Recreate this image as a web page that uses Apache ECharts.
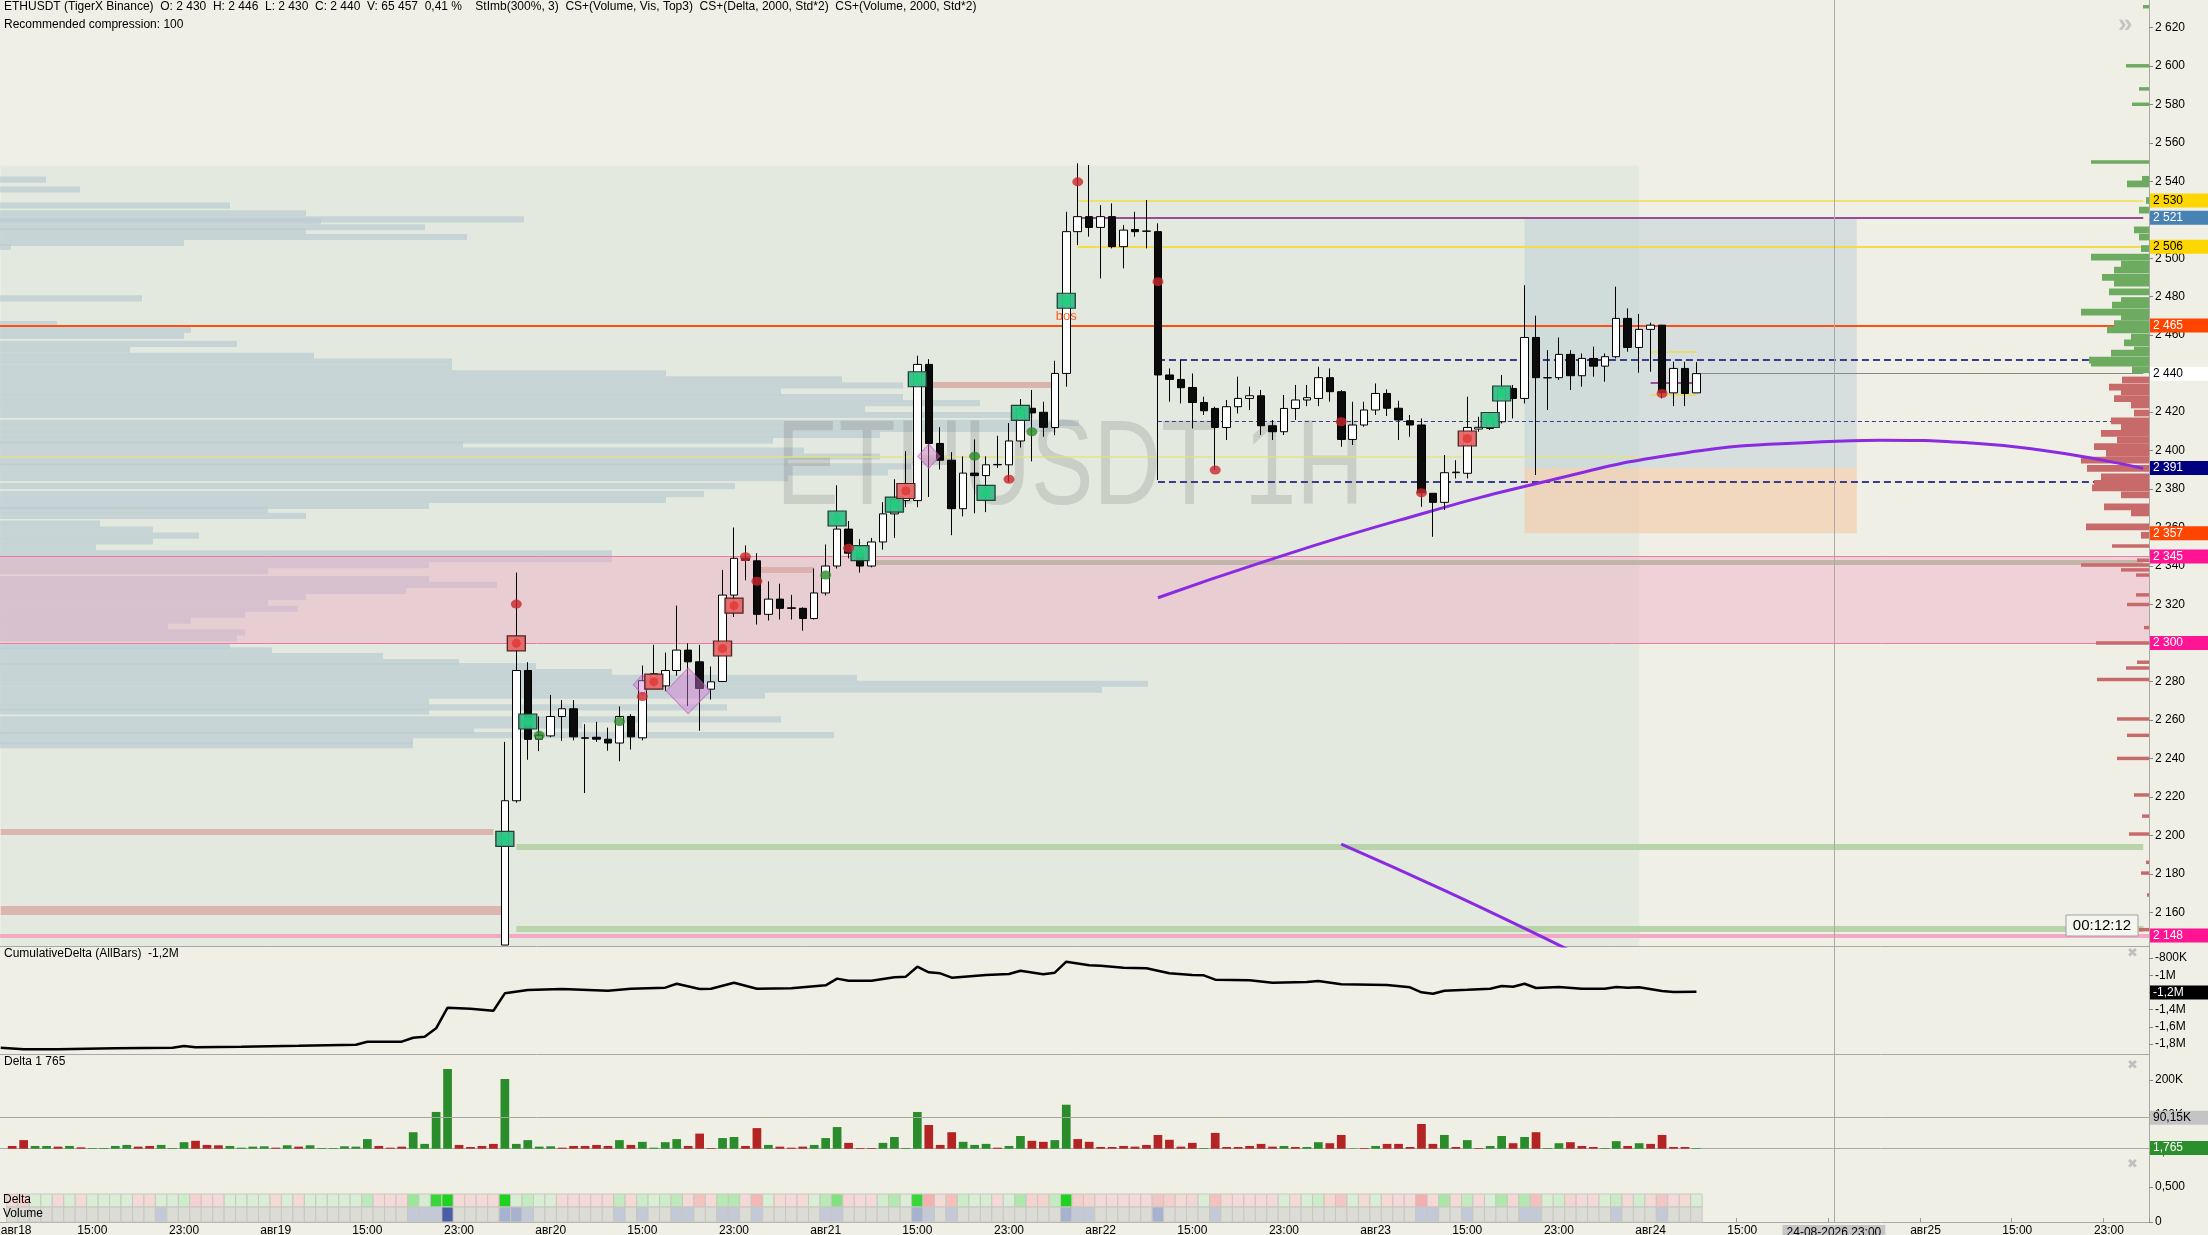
<!DOCTYPE html>
<html><head><meta charset="utf-8">
<script src="https://cdn.jsdelivr.net/npm/echarts@6/dist/echarts.min.js"></script>
<style>html,body{margin:0;padding:0;background:#efefe6;}#c{width:2208px;height:1235px;}</style>
</head><body><div id="c"></div><script>
// ---------------- DATA ----------------
const pad = n => (n < 10 ? '0' : '') + n;
const categories = [];
for (let j = 0; j < 188; j++) {
  const d = new Date(Date.UTC(2026, 7, 18, 7 + j));
  categories.push(pad(d.getUTCDate()) + '-' + pad(d.getUTCMonth() + 1) + '-' + d.getUTCFullYear() + ' ' + pad(d.getUTCHours()) + ':00');
}
const labelHours = ['07', '15', '23'];
const cursorLabel = '24-08-2026 23:00';

// candles [open, close, low, high], first candle at category index candleStart
// (first candle opens below the visible range; its open/low are set at the pane's lower edge)
const candleStart = 44;
const candles = [
[2143,2218,2143,2248.6],[2218,2285.7,2217,2336.6],[2285.7,2249.9,2239.3,2290],[2250,2252,2243.8,2261.8],[2251.7,2261.8,2251,2273],
[2261.8,2265.8,2249.1,2270.3],[2265.8,2251.2,2249.4,2270.3],[2250.7,2250.5,2222,2257.8],[2251,2250,2248.6,2259],[2250,2248,2244,2256],
[2248,2261.8,2238.5,2267],[2261.8,2251.2,2244.6,2263],[2250.7,2280.4,2249.4,2288.3],[2281,2284,2277,2299],[2277.7,2285.7,2275,2295],
[2285.7,2296.3,2283,2319.4],[2296.3,2290.2,2267.2,2299.8],[2290.2,2276.4,2254.4,2299],[2276,2279.8,2270.6,2287.8],[2280,2324.9,2279.8,2338],
[2324.9,2344,2313.5,2360],[2344,2343,2332.6,2350.7],[2342.7,2314.9,2309.6,2346.7],[2314.9,2322.8,2311.7,2332],[2322.8,2318,2312.2,2330.8],
[2318,2318.3,2312.2,2325],[2318,2312.7,2306.4,2318.5],[2312.7,2326,2312.2,2338.7],[2326,2340,2324.7,2351.2],[2340,2359.2,2338.7,2382],
[2359.2,2346.7,2344,2363.4],[2346.7,2340,2336.6,2354],[2340,2352.5,2339.3,2354.6],[2352.5,2367.1,2348.5,2373.2],[2367.1,2374.5,2354.6,2385.1],
[2374,2381,2370.6,2399.7],[2374,2444.8,2370.6,2449.3],[2444.8,2403.7,2375.9,2447.5],[2403.7,2395,2390.2,2412.2],[2395,2369.8,2356,2399.2],
[2369.8,2388.3,2365.8,2397],[2388.3,2387,2367.4,2405.8],[2387,2392.6,2368,2397],[2392.6,2392.8,2391,2407.7],[2392.6,2405,2383.8,2414.3],
[2405,2421.5,2401.6,2426.8],[2422,2419.6,2394.4,2431.5],[2419.9,2412.1,2407.2,2425.4],[2412,2440.1,2408,2446.7],[2440.1,2513.8,2433.2,2524.1],
[2513.8,2521.6,2506.8,2549.3],[2521.6,2516,2511.2,2548.4],[2516,2521.6,2489.5,2527.6],[2521.6,2506,2505.1,2528.5],[2506,2514.6,2494.7,2517.2],
[2514.9,2513.8,2511.2,2524.1],[2514,2514.1,2505.1,2530.2],[2513.8,2439.3,2384.7,2518.1],[2439.3,2437,2425.4,2442.7],[2437,2432.7,2424.5,2447.1],
[2432.8,2425,2411.5,2440.1],[2425,2420.7,2418.5,2428],[2421.9,2412,2389.9,2422.8],[2412,2422.8,2405.5,2426.3],[2422.8,2427.1,2419.3,2438.4],
[2427.1,2428.5,2421.1,2433.2],[2428.5,2412.9,2408.1,2431.5],[2412.9,2409.8,2405.5,2415.9],[2409.8,2421.9,2408.1,2428.9],[2421.9,2426.3,2415.9,2434.1],
[2426.3,2427.5,2423.1,2434.1],[2427.1,2437.9,2423.1,2443.6],[2437.9,2430.6,2425.4,2442.7],[2430.6,2405.8,2402,2431.5],[2405.8,2413.3,2402.9,2425.4],
[2413.3,2421.1,2412.4,2425.4],[2421.1,2429.7,2418.5,2434.9],[2429.7,2422,2418,2431.8],[2422,2415.9,2405.5,2425.9],[2415.5,2413.3,2407.2,2418.5],
[2413.3,2378.1,2370.8,2416.7],[2377.8,2373.1,2355.2,2377.8],[2373.1,2388.5,2369.1,2397.7],[2388.5,2388.8,2385.5,2395],[2388.2,2412,2385.5,2428],
[2411.2,2412.1,2409.8,2417.6],[2411.5,2416.7,2410.7,2419.3],[2415,2432.3,2414.1,2439.3],[2432.3,2427.1,2416.7,2434.1],[2427.1,2458.8,2424.5,2486],
[2458.8,2437.9,2387.3,2470.1],[2437.9,2437.8,2421.1,2452.2],[2437.9,2450,2436.7,2458.8],[2450,2438.9,2431.5,2452.2],[2438.9,2447.9,2433.2,2450.5],
[2447.9,2443.9,2438.4,2454],[2443.9,2448.8,2435.8,2450.5],[2448.8,2468.7,2447.9,2485.2],[2468.7,2453.6,2451.4,2473.9],[2453.6,2463,2440.5,2471],
[2463,2465.2,2441,2466.5],[2465.2,2430.1,2427.1,2465.2],[2430,2442.7,2423.1,2446.2],[2442.7,2429.7,2423.1,2446.2],[2430,2440,2430,2446]
];

// per-bar delta (thousands), first bar at category index deltaStart
const deltaStart = 1;
const deltaK = [
-8,-25,8,8,-6,8,-4,2,2,8, 11,-6,-8,11,2,19,-23,-11,-10,8, 3,6,7,-3,10,-6,10,2,2,7,
6,28,-8,-3,-6,48,14,107,232,-11, -5,-8,-14,203,14,25,6,7,-3,-8, -8,-11,-8,25,-11,20,3,19,28,-8,
-44,-2,31,34,-8,-60,11,-6,-3,-6, 11,31,63,-17,-2,-2,17,34,2,107, -69,-11,-48,20,11,14,-3,8,37,-23,
-20,25,128,-28,-20,-5,-5,-8,-6,-11, -40,-26,-6,-17,2,-46,-5,-5,-8,-14, -6,8,-5,5,19,-16,-40,1,-2,8,
-14,-14,-5,-72,-14,40,-5,25,-2,8, 37,-16,34,-48,2,16,-19,-8,-5,2, 22,-8,16,-14,-40,-5,-5,1.765
];
// volume intensity level per bar (0 light .. 3 dark), same bars as deltaK
const volumeLevel = [
0,0,0,0,0,0,0,0,0,0, 0,0,0,1,0,0,0,0,0,0, 0,0,0,0,0,0,0,0,0,0,
0,0,0,0,0,1,1,1,3,0, 0,0,0,2,2,1,0,0,0,0, 0,0,0,1,0,1,0,0,1,1,
0,0,1,1,0,1,0,0,0,0, 0,1,1,0,0,0,0,0,0,2, 1,0,1,0,0,0,0,0,0,0,
0,0,2,1,1,0,0,0,0,0, 2,0,0,0,0,1,0,0,0,0, 0,0,0,0,0,0,0,0,0,0,
0,0,0,1,1,0,0,1,0,0, 0,0,1,1,0,0,0,0,0,0, 1,0,0,0,1,0,0,0
];
// cumulative delta (millions) read at [category index, value]
const cumDelta = [
[0,-1.843],[2,-1.862],[5,-1.862],[10,-1.850],[15,-1.843],[16,-1.823],[17,-1.838],[21,-1.831],[26,-1.820],[31,-1.808],
[32,-1.773],[35,-1.773],[36,-1.727],[37,-1.715],[38,-1.618],[39,-1.378],[41,-1.389],[43,-1.413],[44,-1.211],[46,-1.172],
[49,-1.160],[53,-1.180],[55,-1.157],[58,-1.145],[59,-1.099],[61,-1.160],[62,-1.157],[64,-1.087],[66,-1.157],[69,-1.153],
[72,-1.118],[73,-1.040],[74,-1.064],[76,-1.064],[78,-1.025],[79,-1.017],[80,-0.901],[81,-0.967],[82,-0.978],[83,-1.029],
[86,-0.998],[88,-0.986],[89,-0.948],[91,-0.990],[92,-0.971],[93,-0.843],[95,-0.885],[96,-0.889],[98,-0.913],[100,-0.920],
[102,-0.978],[104,-0.998],[105,-1.002],[106,-1.052],[109,-1.060],[111,-1.087],[114,-1.079],[115,-1.067],[117,-1.106],[121,-1.114],
[123,-1.141],[124,-1.199],[125,-1.215],[126,-1.180],[128,-1.169],[130,-1.157],[131,-1.126],[132,-1.134],[133,-1.099],[134,-1.149],
[136,-1.137],[138,-1.157],[140,-1.157],[141,-1.137],[142,-1.145],[143,-1.141],[145,-1.184],[146,-1.195],[148,-1.192]
];
// markers [category index, price]
const greenBoxes = [[44,2198.2],[46,2259.2],[73,2364.7],[75,2346.7],[78,2371.9],[80,2437.1],[86,2378],[89,2419.6],[93,2477.9],[130,2415.9],[131,2429.7]];
const redBoxes = [[45,2299.8],[57,2279.9],[63,2297.1],[64,2319.4],[79,2379],[128,2406.3]];
const redDots = [[45,2320.2],[56,2272.2],[65,2344.8],[66,2332.1],[74,2349.3],[88,2385.1],[94,2539.7],[101,2487.8],[106,2389.9],[117,2415],[124,2378.1],[145,2429.7]];
const greenDots = [[47,2252],[54,2259.2],[72,2335.3],[85,2397.1],[90,2409.8]];
const diamonds = [[60,2275.1,44],[56,2278.3,18],[81,2397.1,22]];
// indicator curves [category index, price]
const curveUpper = [[101,2323.5],[110,2341.8],[122,2363.7],[135,2384.2],[147,2398.8],[159,2404.6],[164,2405.4],[172,2403.9],[178,2400.3],[184,2394.4],[187,2390.7]];
const curveLower = [[117,2195.5],[126,2171.4],[136,2143],[138,2137]];
// volume profiles: price levels and bar lengths
const leftProfilePrice = [2540.8,2535.7,2527.4,2523.3,2520.2,2519.2,2516.1,2514.1,2511,2507.9,2505.9,2479.1,2465.8,2462.7,2459.6,2455.5,2452.4,2449.3,2446.3,2443.2,2440.1,2437,2433.9,2430.8,2427.8,2424.7,2421.6,2418.5,2414.4,2411.3,2408.2,2405.2,2403.1,2400,2396.9,2393.9,2391.8,2388.7,2385.6,2381.5,2377.4,2374.3,2371.3,2369.2,2366.1,2362,2358.9,2355.8,2352.8,2349.7,2346.6,2343.5,2340.4,2337.3,2333.2,2330.2,2327.1,2324,2320.9,2317.8,2314.7,2311.6,2308.6,2305.5,2302.4,2298.3,2296.2,2293.2,2290.1,2288,2284.9,2281.9,2278.8,2275.7,2272.6,2269.5,2266.5,2264.4,2260.3,2257.2,2254.1,2252.1,2249,2246.9];
const leftProfileLen = [46,80,230,306,524,321,425,306,467,184,11,142,57,191,184,237,130,314,452,452,666,842,903,781,903,980,865,1033,1079,1056,880,773,463,804,880,788,911,888,788,735,704,666,429,268,306,100,153,199,153,96,612,612,429,268,429,497,406,306,268,298,245,191,168,245,237,230,272,383,459,536,612,857,1148,1102,765,429,727,429,781,582,474,834,413,413];
const rightProfilePrice = [2630.7,2600,2588,2580,2550,2541,2538.6,2530,2525,2514.7,2511,2505,2500.6,2497,2493.8,2490,2487,2482.5,2478,2475.6,2472,2469.5,2466,2462.7,2459,2456,2452.3,2450.7,2447,2445.5,2442,
2436.7,2433,2430.6,2427,2423.7,2419.5,2415.4,2412.3,2409,2405.5,2402,2398.6,2395,2390.7,2386.4,2383,2380.6,2377,2370.7,2367.6,2360.3,2356,2350.4,2343,2340.5,2338,2335.3,2325,2320,2308,2300,2290,2287,2281,2260.5,2252,2240,2221,2210,2200.7,2186,2180.4,2169,2151];
const rightProfileLen = [6,23,10,17,58,7,22,3,10,15,10,8,58,28,35,47,35,40,28,37,68,28,35,42,18,25,15,38,60,58,17,
27,40,28,35,18,15,38,28,48,32,55,43,68,62,48,55,57,28,45,18,63,8,37,12,68,28,13,13,22,5,53,12,23,52,32,22,32,15,7,20,3,8,2,10];
// right-axis level tags
const tagLevels = [2530, 2521, 2506, 2465, 2440, 2391, 2357, 2345, 2300, 2148];
const tagBg = ['#ffd700','#4682b4','#ffd700','#ff4500','#ffffff','#000080','#ff4500','#ff1493','#ff1493','#ff1493'];
const tagFg = ['#000','#fff','#000','#fff','#000','#fff','#fff','#fff','#fff','#fff'];
const priceTicks = [2160,2180,2200,2220,2240,2260,2280,2300,2320,2340,2360,2380,2400,2420,2440,2460,2480,2500,2520,2540,2560,2580,2600,2620];
const cumTicks = [-0.8,-1.0,-1.2,-1.4,-1.6,-1.8];
const deltaTicks = [100,200];
const stripTicks = [0, 0.5, 1];

// ---------------- HELPERS ----------------
const FONT = 'Liberation Sans, Arial, sans-serif';
const NOLINE = {color:'rgba(0,0,0,0)', width:0};
const fmtPrice = v => { const s = String(Math.round(v)); return s.slice(0, s.length - 3) + ' ' + s.slice(-3); };
const fmtCum = v => { const a = Math.abs(v); return a >= 0.999 ? '-' + String(+a.toFixed(1)).replace('.', ',') + 'M' : '-' + Math.round(a * 1000) + 'K'; };
const fmtStrip = v => v === 0 ? '0' : v.toFixed(3).replace('.', ',');
function hex(c){return [parseInt(c.slice(1,3),16),parseInt(c.slice(3,5),16),parseInt(c.slice(5,7),16)];}
function mix(a,b,t){const x=hex(a),y=hex(b);return 'rgb('+x.map((v,i)=>Math.round(v+(y[i]-v)*t)).join(',')+')';}
function tag(text,bg,fg,dist){return {show:true,position:'end',formatter:text,backgroundColor:bg,color:fg,opacity:1,fontSize:12,fontFamily:FONT,padding:[1,4,0,3],width:52,lineHeight:13,distance:dist};}
function seg(y,from,to,style){return [{xAxis:from,yAxis:y,lineStyle:style},{xAxis:to,yAxis:y}];}

const blank = categories.map(() => '-');
const candleData = categories.map((c, j) => (j >= candleStart && j < candleStart + candles.length) ? candles[j - candleStart] : '-');
const deltaData = categories.map((c, j) => {
  const k = j - deltaStart;
  if (k < 0 || k >= deltaK.length) return '-';
  const d = deltaK[k];
  return {value: Math.abs(d), itemStyle: {color: d >= 0 ? '#2a8c2a' : '#b52424'}};
});
const stripData = [], stripColors = [];
deltaK.forEach((d, k) => {
  const t = Math.max(0, Math.min(1, (Math.abs(d) - 12) / 110));
  stripData.push([k + deltaStart, 1]);
  stripColors.push(d >= 0 ? mix('#d9eed5', '#1fd21f', t) : mix('#f4dad6', '#f28c8c', t));
  stripData.push([k + deltaStart, 0]);
  stripColors.push(['#dcdcd6', '#c3c9d6', '#a6b2d0', '#4a5ea8'][volumeLevel[k] || 0]);
});
const cursorLine = {silent:true, symbol:['none','none'], z:1.6, label:{show:false}, lineStyle:{color:'#a9a9a9', width:1, type:'solid'}, data:[{xAxis: cursorLabel}]};

// ---------------- CHART ----------------
const chart = echarts.init(document.getElementById('c'), null, {renderer:'canvas'});
const gridBase = {left:-5, right:59, outerBoundsMode:'none', containLabel:false};
const xCat = (i, show) => ({
  type:'category', gridIndex:i, data:categories, boundaryGap:true,
  axisLine:{show:true, lineStyle:{color:'#a8a8a8', width:1}},
  axisTick: show ? {show:true, inside:true, length:4, interval:(idx,v)=>labelHours.includes(v.slice(11,13)), lineStyle:{color:'#999'}} : {show:false},
  axisLabel: show ? {
    show:true, fontSize:12, fontFamily:FONT, color:'#000', margin:3, alignMinLabel:'left',
    interval:(idx,v)=>labelHours.includes(v.slice(11,13)),
    formatter:(v)=> v === cursorLabel ? '{hl|' + v + '}' : (v.slice(11,13) === '07' ? 'авг' + v.slice(0,2) : v.slice(11,16)),
    rich:{hl:{backgroundColor:'#c6c6c6', color:'#000', fontSize:12, fontFamily:FONT, padding:[2,4,1,4]}}
  } : {show:false},
  splitLine:{show:false}
});
const yRight = (i, min, max, custom, fmt) => ({
  type:'value', gridIndex:i, position:'right', min:min, max:max, scale:false,
  axisLine:{show:true, lineStyle:{color:'#a8a8a8'}},
  axisTick:{show:true, length:4, customValues:custom, lineStyle:{color:'#888'}},
  axisLabel:{show:true, customValues:custom, formatter:fmt, fontSize:12, fontFamily:FONT, color:'#000', margin:6},
  splitLine:{show:false}
});

const option = {
  backgroundColor:'#efefe6',
  animation:false,
  grid:[
    Object.assign({top:0, height:946}, gridBase),
    Object.assign({top:946, height:108}, gridBase),
    Object.assign({top:1054, height:99}, gridBase),
    Object.assign({top:1152, height:70}, gridBase),
    {left:0, top:0, width:1600, height:946, outerBoundsMode:'none'},
    {left:1849, top:0, width:300, height:946, outerBoundsMode:'none'}
  ],
  xAxis:[xCat(0,false), xCat(1,false), xCat(2,false), xCat(3,true),
    {type:'value', gridIndex:4, min:0, max:1600, show:false},
    {type:'value', gridIndex:5, min:0, max:300, inverse:true, show:false}],
  yAxis:[
    yRight(0, 2142.5, 2634.2, priceTicks, fmtPrice),
    yRight(1, -1.9163, -0.6605, cumTicks, fmtCum),
    yRight(2, -12.5, 275.7, deltaTicks, v => v + 'K'),
    yRight(3, 0, 1, stripTicks, fmtStrip),
    {type:'value', gridIndex:4, min:2142.5, max:2634.2, show:false},
    {type:'value', gridIndex:5, min:2142.5, max:2634.2, show:false}
  ],
  graphic:[
    {type:'text', left:4, top:1, z:10, style:{text:'ETHUSDT (TigerX Binance)  O: 2 430  H: 2 446  L: 2 430  C: 2 440  V: 65 457  0,41 %    StImb(300%, 3)  CS+(Volume, Vis, Top3)  CS+(Delta, 2000, Std*2)  CS+(Volume, 2000, Std*2)', fill:'#000', font:'12px ' + FONT}},
    {type:'text', left:4, top:19, z:10, style:{text:'Recommended compression: 100', fill:'#000', font:'12px ' + FONT}},
    {type:'text', left:4, top:948, z:10, style:{text:'CumulativeDelta (AllBars)  -1,2M', fill:'#000', font:'12px ' + FONT}},
    {type:'text', left:4, top:1056, z:10, style:{text:'Delta 1 765', fill:'#000', font:'12px ' + FONT}},
    {type:'text', left:3, top:1194, z:10, style:{text:'Delta', fill:'#000', font:'12px ' + FONT}},
    {type:'text', left:3, top:1208, z:10, style:{text:'Volume', fill:'#000', font:'12px ' + FONT}},
    {type:'text', x:1070, y:471, scaleX:0.78, z:1.2, style:{text:'ETHUSDT 1H', fill:'rgba(110,110,110,0.22)', font:'120px ' + FONT, textAlign:'center', textVerticalAlign:'middle'}},
    {type:'rect', x:2066, y:915, z:10, shape:{x:0, y:0, width:72, height:21}, style:{fill:'#f6f6f0', stroke:'#a0a0a0', lineWidth:1}},
    {type:'text', x:2102, y:926, z:11, style:{text:'00:12:12', fill:'#000', font:'15px ' + FONT, textAlign:'center', textVerticalAlign:'middle'}},
    {type:'text', x:2118, y:12, z:10, style:{text:'»', fill:'#c4c4c4', font:'bold 26px ' + FONT}},
    {type:'text', x:2127, y:947, z:10, style:{text:'✖', fill:'#c0c0c0', font:'13px DejaVu Sans'}},
    {type:'text', x:2127, y:1059, z:10, style:{text:'✖', fill:'#c0c0c0', font:'13px DejaVu Sans'}},
    {type:'text', x:2127, y:1158, z:10, style:{text:'✖', fill:'#c0c0c0', font:'13px DejaVu Sans'}}
  ],
  series:[
    // background zones
    {name:'zones', type:'line', xAxisIndex:0, yAxisIndex:0, data:blank, z:0, silent:true, symbol:'none',
     markArea:{silent:true, z:0, data:[
       [{xAxis:0, yAxis:2548, itemStyle:{color:'rgba(212,226,214,0.45)'}}, {xAxis:143, yAxis:2142.5}],
       [{xAxis:133, yAxis:2521, itemStyle:{color:'rgba(190,208,214,0.5)'}}, {xAxis:162, yAxis:2391}],
       [{xAxis:133, yAxis:2391, itemStyle:{color:'rgba(246,196,160,0.55)'}}, {xAxis:162, yAxis:2357}]
     ]}},
    // left volume profile
    {name:'profileL', type:'custom', xAxisIndex:4, yAxisIndex:4, z:1, silent:true, clip:false,
     data: leftProfilePrice.map((p, i) => [leftProfileLen[i], p]),
     renderItem:(params, api) => {
       const a = api.coord([0, api.value(1) + 1.6]), b = api.coord([api.value(0), api.value(1) - 1.6]);
       return {type:'rect', shape:{x:a[0], y:a[1], width:b[0]-a[0], height:b[1]-a[1]}, style:{fill:'rgba(188,204,210,0.72)'}};
     }},
    // levels, pink zone and horizontal lines
    {name:'levels', type:'line', xAxisIndex:0, yAxisIndex:0, data:blank, z:1.5, silent:true, symbol:'none',
     markArea:{silent:true, z:1.5, data:[[{yAxis:2345, itemStyle:{color:'rgba(238,168,196,0.42)'}}, {yAxis:2300}]]},
     markLine:{silent:true, symbol:['none','none'], z:1.6, label:{show:false}, data:[
       {yAxis:2345, lineStyle:{color:'#ee7aa5', width:1, type:'solid'}},
       {yAxis:2300, lineStyle:{color:'#ee7aa5', width:1, type:'solid'}},
       {yAxis:2465, lineStyle:{color:'#ff4f14', width:2, type:'solid'}},
       {yAxis:2148, lineStyle:{color:'#f2a9c6', width:4, type:'solid'}},
       seg(2530, 94, 187, {color:'#f2dc4a', width:1.5, type:'solid'}),
       seg(2506, 94, 187, {color:'#f2dc4a', width:2, type:'solid'}),
       seg(2521, 94, 187, {color:'#9a4c9a', width:2, type:'solid'}),
       seg(2397, 0, 143, {color:'rgba(232,224,130,0.9)', width:1.5, type:'solid'}),
       seg(2447, 101, 187, {color:'#3c3c8c', width:2, type:[7,4]}),
       seg(2384, 101, 187, {color:'#3c3c8c', width:2, type:[7,4]}),
       seg(2415, 101, 187, {color:'#3c3c8c', width:1, type:[4,3]}),
       seg(2342, 76, 187, {color:'rgba(188,178,164,0.9)', width:5, type:'solid'}),
       seg(2194, 45, 187, {color:'#b9d4ab', width:6, type:'solid'}),
       seg(2151.5, 45, 187, {color:'#b9d4ab', width:6, type:'solid'}),
       seg(2202, 0, 43, {color:'rgba(216,176,170,0.9)', width:6, type:'solid'}),
       seg(2161, 0, 44, {color:'rgba(216,176,170,0.9)', width:9, type:'solid'}),
       seg(2434, 81, 92, {color:'rgba(216,172,166,0.85)', width:6, type:'solid'}),
       seg(2338, 66, 71, {color:'rgba(216,172,166,0.85)', width:6, type:'solid'}),
       seg(2451.4, 144, 148, {color:'#e8dc70', width:2, type:'solid'}),
       seg(2428.9, 144, 148, {color:'#e8dc70', width:2, type:'solid'}),
       seg(2435.3, 144, 148, {color:'#9a4c9a', width:2, type:'solid'}),
       seg(2440, 148, 187, {color:'#8a8a8a', width:1, type:'solid'}),
       {xAxis: cursorLabel, lineStyle:{color:'#a9a9a9', width:1, type:'solid'}}
     ]}},
    // right-axis tags (own series so they sit on top)
    {name:'tags', type:'line', xAxisIndex:0, yAxisIndex:0, data:blank, z:6, silent:true, symbol:'none',
     markLine:{silent:true, symbol:['none','none'], z:8, data:
       tagLevels.map((v, i) => ({yAxis:v, lineStyle:NOLINE, label:tag(fmtPrice(v), tagBg[i], tagFg[i], 1)}))}},
    // right volume profile
    {name:'profileR', type:'custom', xAxisIndex:5, yAxisIndex:5, z:2, silent:true, clip:false,
     data: rightProfilePrice.map((p, i) => [rightProfileLen[i], p]),
     renderItem:(params, api) => {
       const p = api.value(1), h = (p > 2354 && p < 2546) ? 1.75 : 0.9;
       const a = api.coord([0, p + h]), b = api.coord([api.value(0), p - h]);
       return {type:'rect', shape:{x:Math.min(a[0],b[0]), y:a[1], width:Math.abs(b[0]-a[0]), height:b[1]-a[1]}, style:{fill: p >= 2440.5 ? '#6cab60' : '#c96a6a'}};
     }},
    // indicator curves
    {name:'curveUpper', type:'line', xAxisIndex:0, yAxisIndex:0, data:curveUpper, smooth:true, symbol:'none', z:2.5, silent:true, lineStyle:{color:'#8a2be2', width:3}},
    {name:'curveLower', type:'line', xAxisIndex:0, yAxisIndex:0, data:curveLower, smooth:true, symbol:'none', z:2.5, silent:true, clip:true, lineStyle:{color:'#8a2be2', width:3}},
    // candles
    {name:'ETHUSDT', type:'candlestick', xAxisIndex:0, yAxisIndex:0, data:candleData, z:3, barWidth:8, clip:true,
     itemStyle:{color:'#ffffff', color0:'#0b0b0b', borderColor:'#000', borderColor0:'#000', borderWidth:1},
     markPoint:{silent:true, z:6, symbol:'circle', symbolSize:0, data:[{coord:[93, 2469.6], label:{show:true, formatter:'bos', color:'#ff5a1e', fontSize:13, fontFamily:FONT, position:'inside'}}]}},
    // markers
    {name:'diamonds', type:'scatter', xAxisIndex:0, yAxisIndex:0, z:4, silent:true, symbol:'diamond',
     data:diamonds.map(d => ({value:[d[0], d[1]], symbolSize:[d[2], d[2] + 2]})),
     itemStyle:{color:'rgba(214,120,214,0.55)', borderColor:'rgba(190,90,190,0.8)', borderWidth:1}},
    {name:'greenBoxes', type:'scatter', xAxisIndex:0, yAxisIndex:0, z:4.5, silent:true, symbol:'rect', symbolSize:[18,15], data:greenBoxes,
     itemStyle:{color:'#36bd88', borderColor:'#1c3a2c', borderWidth:1.2, opacity:0.95}},
    {name:'redBoxes', type:'scatter', xAxisIndex:0, yAxisIndex:0, z:4.5, silent:true, symbol:'rect', symbolSize:[18,15], data:redBoxes,
     itemStyle:{color:'#e66767', borderColor:'#4a1c1c', borderWidth:1.2, opacity:0.95}},
    {name:'greenBoxDots', type:'scatter', xAxisIndex:0, yAxisIndex:0, z:5, silent:true, symbol:'circle', symbolSize:[9,9], data:greenBoxes, itemStyle:{color:'#1ccf78'}},
    {name:'redBoxDots', type:'scatter', xAxisIndex:0, yAxisIndex:0, z:5, silent:true, symbol:'circle', symbolSize:[9,9], data:redBoxes, itemStyle:{color:'#e23434'}},
    {name:'redDots', type:'scatter', xAxisIndex:0, yAxisIndex:0, z:5, silent:true, symbol:'circle', symbolSize:[11,9], data:redDots, itemStyle:{color:'#c9272c'}},
    {name:'greenDots', type:'scatter', xAxisIndex:0, yAxisIndex:0, z:5, silent:true, symbol:'circle', symbolSize:[11,9], data:greenDots, itemStyle:{color:'#2a8a2a'}},
    // cumulative delta
    {name:'CumulativeDelta', type:'line', xAxisIndex:1, yAxisIndex:1, data:cumDelta, symbol:'none', z:3, silent:true,
     lineStyle:{color:'#000', width:2.5},
     markLine:{silent:true, symbol:['none','none'], z:8, label:{show:false}, data:[
       {xAxis: cursorLabel, lineStyle:{color:'#a9a9a9', width:1, type:'solid'}},
       {yAxis:-1.2, lineStyle:NOLINE, label:tag('-1,2M', '#000000', '#fff', 1)}
     ]}},
    // delta bars
    {name:'Delta', type:'bar', xAxisIndex:2, yAxisIndex:2, data:deltaData, barWidth:'76%', z:3, silent:true,
     markLine:{silent:true, symbol:['none','none'], z:8, label:{show:false}, data:[
       {xAxis: cursorLabel, lineStyle:{color:'#a9a9a9', width:1, type:'solid'}},
       {yAxis:90.15, lineStyle:{color:'#a6a6a6', width:1, type:'solid'}, label:tag('90,15K', '#c4c4c4', '#000', 1)},
       {yAxis:1.765, lineStyle:NOLINE, label:tag('1,765', '#2b8f2b', '#fff', 1)}
     ]}},
    // delta / volume strip
    {name:'strip', type:'custom', xAxisIndex:3, yAxisIndex:3, data:stripData, z:3, silent:true,
     renderItem:(params, api) => {
       const j = api.value(0), row = api.value(1);
       const top = row === 1 ? 0.40 : 0.214, bot = row === 1 ? 0.214 : 0;
       const a = api.coord([j, top]), b = api.coord([j, bot]);
       const w = api.size([1, 0])[0];
       return {type:'rect', shape:{x:a[0]-w/2, y:a[1], width:w, height:b[1]-a[1]}, style:{fill:stripColors[params.dataIndex], stroke:'#c8c8c1', lineWidth:1}};
     },
     markLine:cursorLine}
  ]
};
chart.setOption(option);
</script></body></html>
